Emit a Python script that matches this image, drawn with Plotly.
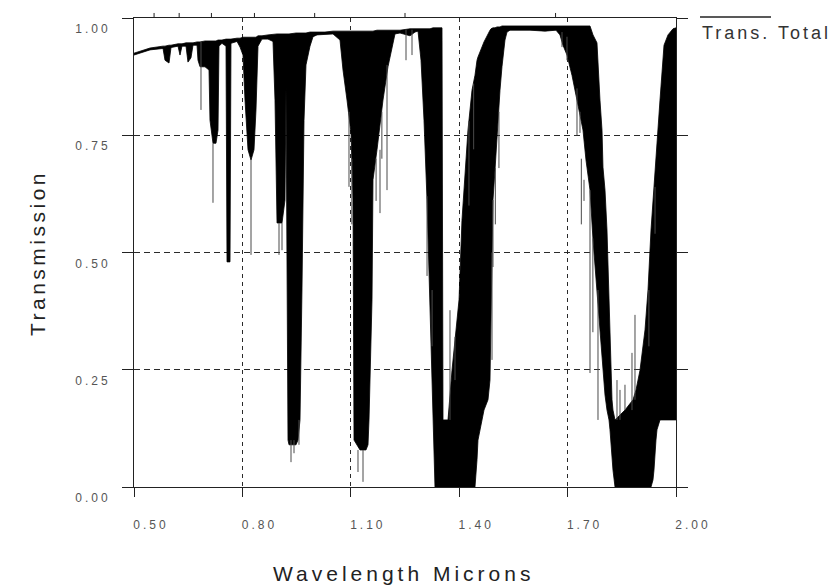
import plotly.graph_objects as go

# Atmospheric transmission, 0.5-2.0 microns.
# The absorption bands are so dense that the trace reads as a solid band;
# it is described by its upper and lower edge at each wavelength knot.
wavelength = [
    0.5000, 0.5443, 0.5803, 0.5858, 0.5969, 0.6024, 0.6218, 0.6273, 0.6328, 0.6439,
    0.6494, 0.6577, 0.6633, 0.6744, 0.6771, 0.6827, 0.6965, 0.7076, 0.7103, 0.7186,
    0.7269, 0.7325, 0.7352, 0.7435, 0.7546, 0.7574, 0.7657, 0.7684, 0.7851, 0.7934,
    0.8017, 0.8072, 0.8155, 0.8238, 0.8321, 0.8376, 0.8432, 0.8542, 0.8708, 0.8847,
    0.8902, 0.8958, 0.9096, 0.9179, 0.9207, 0.9262, 0.9290, 0.9484, 0.9539, 0.9594,
    0.9649, 0.9677, 0.9705, 0.9760, 0.9871, 0.9954, 1.0065, 1.0286, 1.0507, 1.0701,
    1.0784, 1.0895, 1.1006, 1.1061, 1.1089, 1.1255, 1.1421, 1.1476, 1.1504, 1.1587,
    1.1614, 1.1725, 1.1891, 1.2029, 1.2223, 1.2362, 1.2639, 1.2777, 1.2860, 1.2943,
    1.3026, 1.3109, 1.3192, 1.3275, 1.3330, 1.3524, 1.3552, 1.3690, 1.3801, 1.3911,
    1.3995, 1.4077, 1.4160, 1.4243, 1.4354, 1.4437, 1.4493, 1.4520, 1.4686, 1.4797,
    1.4852, 1.4880, 1.4935, 1.4991, 1.5046, 1.5129, 1.5184, 1.5267, 1.5323, 1.5406,
    1.5959, 1.6374, 1.6679, 1.6789, 1.6872, 1.6983, 1.7121, 1.7260, 1.7426, 1.7509,
    1.7620, 1.7703, 1.7813, 1.7896, 1.7952, 1.7979, 1.8035, 1.8090, 1.8146, 1.8173,
    1.8229, 1.8256, 1.8312, 1.8588, 1.8810, 1.8893, 1.9004, 1.9142, 1.9225, 1.9308,
    1.9363, 1.9391, 1.9446, 1.9474, 1.9557, 1.9668, 1.9779, 1.9917, 2.0000,
]
trans_upper = [
    0.925, 0.936, 0.940, 0.940, 0.942, 0.942, 0.945, 0.945, 0.945, 0.947,
    0.947, 0.947, 0.947, 0.949, 0.949, 0.949, 0.951, 0.951, 0.951, 0.951,
    0.951, 0.953, 0.953, 0.953, 0.955, 0.955, 0.955, 0.955, 0.957, 0.957,
    0.959, 0.959, 0.959, 0.959, 0.959, 0.959, 0.962, 0.962, 0.964, 0.966,
    0.966, 0.966, 0.966, 0.966, 0.966, 0.966, 0.966, 0.968, 0.968, 0.968,
    0.968, 0.968, 0.968, 0.968, 0.970, 0.970, 0.970, 0.970, 0.972, 0.972,
    0.972, 0.972, 0.972, 0.972, 0.972, 0.972, 0.972, 0.972, 0.972, 0.972,
    0.972, 0.974, 0.974, 0.974, 0.974, 0.974, 0.977, 0.977, 0.977, 0.977,
    0.977, 0.977, 0.977, 0.979, 0.979, 0.979, 0.143, 0.143, 0.249, 0.335,
    0.399, 0.569, 0.676, 0.761, 0.846, 0.878, 0.910, 0.917, 0.949, 0.968,
    0.974, 0.977, 0.979, 0.979, 0.981, 0.981, 0.983, 0.983, 0.983, 0.983,
    0.983, 0.983, 0.983, 0.983, 0.983, 0.983, 0.983, 0.983, 0.983, 0.983,
    0.983, 0.964, 0.947, 0.825, 0.761, 0.682, 0.633, 0.548, 0.399, 0.313,
    0.186, 0.164, 0.143, 0.164, 0.186, 0.207, 0.249, 0.335, 0.420, 0.548,
    0.612, 0.633, 0.687, 0.719, 0.825, 0.942, 0.964, 0.977, 0.979,
]
trans_lower = [
    0.921, 0.932, 0.935, 0.910, 0.904, 0.937, 0.940, 0.921, 0.940, 0.940,
    0.906, 0.915, 0.942, 0.942, 0.910, 0.896, 0.896, 0.889, 0.782, 0.733,
    0.733, 0.761, 0.940, 0.946, 0.940, 0.480, 0.480, 0.946, 0.950, 0.938,
    0.921, 0.825, 0.719, 0.697, 0.719, 0.804, 0.940, 0.955, 0.955, 0.950,
    0.825, 0.563, 0.563, 0.612, 0.853, 0.100, 0.090, 0.090, 0.100, 0.143,
    0.420, 0.655, 0.782, 0.900, 0.940, 0.960, 0.964, 0.965, 0.966, 0.953,
    0.889, 0.825, 0.755, 0.612, 0.100, 0.079, 0.079, 0.090, 0.143, 0.399,
    0.655, 0.719, 0.825, 0.896, 0.966, 0.968, 0.962, 0.970, 0.972, 0.910,
    0.782, 0.612, 0.399, 0.143, 0.000, 0.000, 0.000, 0.000, 0.000, 0.000,
    0.000, 0.000, 0.000, 0.000, 0.000, 0.000, 0.058, 0.100, 0.164, 0.186,
    0.228, 0.399, 0.612, 0.676, 0.755, 0.846, 0.896, 0.953, 0.970, 0.974,
    0.974, 0.972, 0.974, 0.964, 0.942, 0.921, 0.878, 0.825, 0.761, 0.697,
    0.633, 0.527, 0.420, 0.335, 0.292, 0.249, 0.196, 0.164, 0.143, 0.122,
    0.058, 0.036, 0.000, 0.000, 0.000, 0.000, 0.000, 0.000, 0.000, 0.000,
    0.015, 0.036, 0.100, 0.122, 0.143, 0.143, 0.143, 0.143, 0.143,
]

# Individual strong lines drawn as thin strokes: wavelength, start, end
line_wl = [0.6854, 0.7186, 0.8238, 0.9013, 0.9096, 0.9345, 0.9428, 0.9566,
           1.1199, 1.1338, 1.1808, 1.2002, 1.2528, 1.2694, 1.3745, 1.3884,
           1.4908, 1.4935, 1.6845, 1.6983, 1.7260, 1.7343, 1.7454, 1.7620,
           1.7841, 1.8367, 1.8450, 1.8588, 1.8782, 1.8865,
           1.0950, 1.1030, 1.1700, 1.1860, 1.3110, 1.3250, 1.4270, 1.4400,
           1.5000, 1.5100, 1.7380, 1.7700, 1.9250, 1.9420]
line_from = [0.949, 0.733, 0.697, 0.563, 0.563, 0.100, 0.100, 0.143,
             0.079, 0.079, 0.719, 0.900, 0.975, 0.975, 0.377, 0.320,
             0.500, 0.612, 0.970, 0.960, 0.850, 0.800, 0.655, 0.633,
             0.420, 0.143, 0.143, 0.164, 0.164, 0.186,
             0.800, 0.700, 0.700, 0.800, 0.620, 0.420, 0.780, 0.860,
             0.680, 0.800, 0.700, 0.530, 0.420, 0.640]
line_to = [0.804, 0.606, 0.495, 0.495, 0.505, 0.053, 0.072, 0.090,
           0.032, 0.011, 0.584, 0.633, 0.910, 0.921, 0.143, 0.228,
           0.271, 0.469, 0.938, 0.910, 0.750, 0.755, 0.610, 0.243,
           0.143, 0.228, 0.207, 0.218, 0.286, 0.367,
           0.640, 0.560, 0.610, 0.700, 0.450, 0.300, 0.600, 0.720,
           0.560, 0.680, 0.560, 0.330, 0.300, 0.540]

x_ticks = [0.5, 0.8, 1.1, 1.4, 1.7, 2.0]
y_ticks = [0.0, 0.25, 0.5, 0.75, 1.0]
wavenumber_ticks = [18000, 16000, 14000, 12000, 10000, 8000, 6000]  # cm^-1

FONT = "Liberation Sans, Arial, sans-serif"


def spaced(text, px):
    return f'<span style="letter-spacing:{px}px">{text}</span>'


fig = go.Figure()

# lower edge of the band, then the upper edge filled down to it
fig.add_trace(go.Scatter(
    x=wavelength, y=trans_lower, mode="lines",
    line=dict(color="black", width=0.8), hoverinfo="skip",
))
fig.add_trace(go.Scatter(
    x=wavelength, y=trans_upper, mode="lines",
    line=dict(color="black", width=0.8), fill="tonexty", fillcolor="black",
    name="Trans. Total",
))

# thin line strokes
seg_x, seg_y = [], []
for w, a, b in zip(line_wl, line_from, line_to):
    seg_x += [w, w, None]
    seg_y += [a, b, None]
fig.add_trace(go.Scatter(
    x=seg_x, y=seg_y, mode="lines",
    line=dict(color="#4a4a4a", width=1), hoverinfo="skip",
))

# wavenumber ticks along the top edge
top_ticks = [
    dict(type="line", xref="x", yref="paper", x0=1e4 / k, x1=1e4 / k,
         y0=1.0, y1=1.0107, line=dict(color="#222", width=1))
    for k in wavenumber_ticks
]

grid = dict(showgrid=True, gridcolor="#2a2a2a", gridwidth=1)

fig.update_layout(
    width=833, height=586,
    margin=dict(l=134, r=157, t=18, b=99, autoexpand=False),
    paper_bgcolor="white", plot_bgcolor="white",
    showlegend=False,
    font=dict(family=FONT),
    xaxis=dict(
        range=[0.5, 2.0], tickmode="array", tickvals=x_ticks,
        ticktext=[spaced(f"{v:.2f}", 3) for v in x_ticks],
        ticks="outside", ticklen=9, tickwidth=1, tickcolor="#222",
        showline=True, linecolor="#222", linewidth=1, mirror=True,
        griddash="4px,4px", zeroline=False,
        tickfont=dict(family=FONT, size=12, color="#555"),
        ticklabelshift=17, ticklabelstandoff=18,
        **grid,
    ),
    yaxis=dict(
        range=[0, 1], tickmode="array", tickvals=y_ticks,
        ticktext=[spaced(f"{v:.2f}", 3) for v in y_ticks],
        ticks="outside", ticklen=11, tickwidth=1, tickcolor="#222",
        showline=True, linecolor="#222", linewidth=1, mirror="ticks",
        griddash="6px,4px", zeroline=False,
        tickfont=dict(family=FONT, size=12, color="#555"),
        ticklabelshift=11, ticklabelstandoff=9,
        **grid,
    ),
    annotations=[
        dict(text=spaced("Wavelength Microns", 4), xref="paper", yref="paper",
             x=0.498, y=-0.185, xanchor="center", yanchor="middle",
             showarrow=False, font=dict(family=FONT, size=21, color="#222")),
        dict(text=spaced("Transmission", 3.5), xref="paper", yref="paper",
             x=-0.177, y=0.499, xanchor="center", yanchor="middle",
             textangle=-90, showarrow=False,
             font=dict(family=FONT, size=21, color="#222")),
        dict(text=spaced("Trans. Total", 3), xref="paper", yref="paper",
             x=1.0443, y=0.968, xanchor="left", yanchor="middle",
             showarrow=False, font=dict(family=FONT, size=18, color="#333")),
    ],
    shapes=top_ticks + [
        dict(type="line", xref="paper", yref="paper",
             x0=1.0443, x1=1.1753, y0=1.0021, y1=1.0021,
             line=dict(color="#222", width=1.5)),
    ],
)

fig.write_html("out.html")
